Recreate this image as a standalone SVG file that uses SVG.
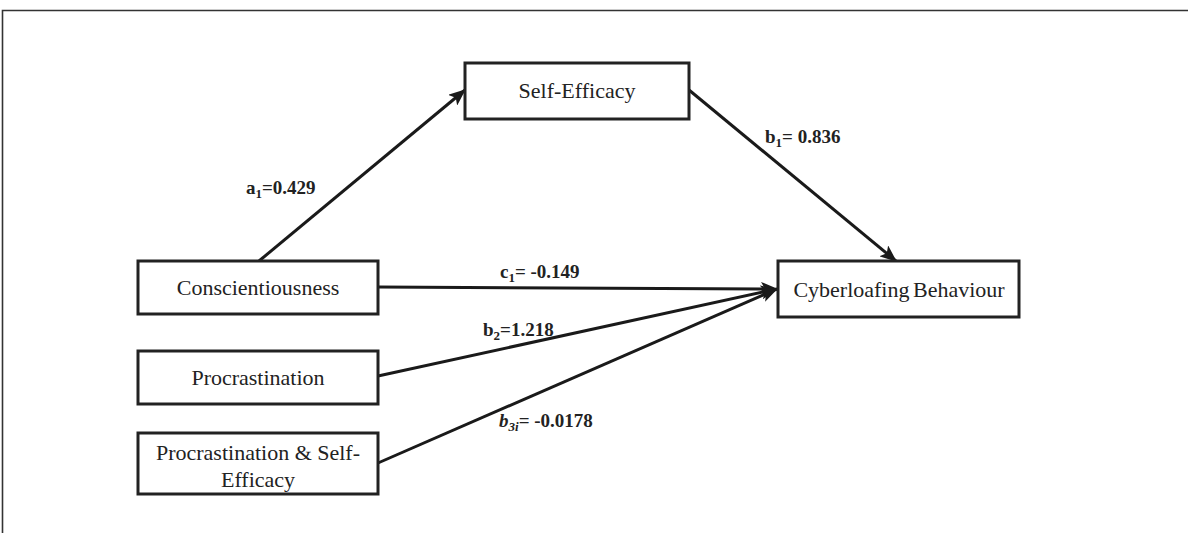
<svg xmlns="http://www.w3.org/2000/svg" width="1188" height="533" viewBox="0 0 1188 533">
<style>
.box{fill:#fff;stroke:#222;stroke-width:3}
.nt{font-family:"Liberation Serif","Times New Roman",serif;font-size:22px;fill:#222;text-anchor:middle}
.lb{font-family:"Liberation Serif","Times New Roman",serif;font-size:19px;font-weight:bold;fill:#222}
.sub{font-size:13px}
.edge{stroke:#1a1a1a;stroke-width:3;fill:none}
</style>
<defs>
<marker id="ah" markerUnits="userSpaceOnUse" markerWidth="18" markerHeight="14" refX="16" refY="7" orient="auto">
<path d="M0,0 L17,7 L0,14 L4,7 Z" fill="#1a1a1a"/>
</marker>
</defs>
<rect width="1188" height="533" fill="#fff"/>
<path d="M2.5,533 V10.5 H1188" fill="none" stroke="#333" stroke-width="1.6"/>
<g id="connectors">
<line class="edge" x1="259" y1="261" x2="465" y2="90" marker-end="url(#ah)"/>
<line class="edge" x1="689" y1="90" x2="896" y2="261" marker-end="url(#ah)"/>
<line class="edge" x1="378" y1="287" x2="777" y2="289" marker-end="url(#ah)"/>
<line class="edge" x1="378" y1="376" x2="777" y2="289" marker-end="url(#ah)"/>
<line class="edge" x1="378" y1="463" x2="777" y2="289" marker-end="url(#ah)"/>
</g>
<g id="self-efficacy">
<rect class="box" x="465" y="63" width="224" height="56"/>
<text class="nt" x="577" y="98">Self-Efficacy</text>
</g>
<g id="conscientiousness">
<rect class="box" x="138" y="261" width="240" height="53"/>
<text class="nt" x="258" y="295">Conscientiousness</text>
</g>
<g id="procrastination">
<rect class="box" x="138" y="351" width="240" height="53"/>
<text class="nt" x="258" y="385">Procrastination</text>
</g>
<g id="procrastination-self-efficacy">
<rect class="box" x="138" y="433" width="240" height="61"/>
<text class="nt" x="258" y="460">Procrastination &amp; Self-</text>
<text class="nt" x="258" y="487">Efficacy</text>
</g>
<g id="cyberloafing">
<rect class="box" x="778" y="261" width="241" height="56"/>
<text class="nt" x="899" y="297" word-spacing="-2">Cyberloafing Behaviour</text>
</g>
<g id="labels">
<text class="lb" x="246" y="194">a<tspan class="sub" dy="4">1</tspan><tspan dy="-4">=0.429</tspan></text>
<text class="lb" x="765" y="143">b<tspan class="sub" dy="4">1</tspan><tspan dy="-4">= 0.836</tspan></text>
<text class="lb" x="500" y="278">c<tspan class="sub" dy="4">1</tspan><tspan dy="-4">= -0.149</tspan></text>
<text class="lb" x="483" y="336">b<tspan class="sub" dy="4">2</tspan><tspan dy="-4">=1.218</tspan></text>
<text class="lb" x="499" y="427"><tspan font-style="italic">b</tspan><tspan class="sub" font-style="italic" dy="4">3i</tspan><tspan dy="-4">= -0.0178</tspan></text>
</g>
</svg>
